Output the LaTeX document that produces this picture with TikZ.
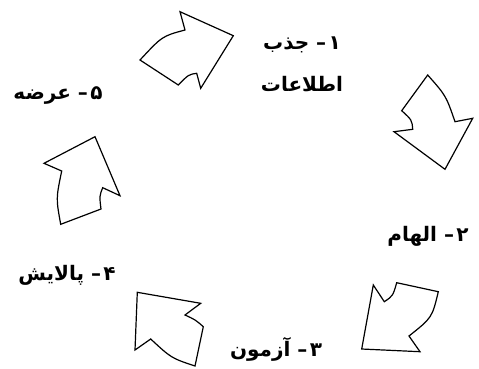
\documentclass[tikz,border=0pt]{standalone}
\usepackage{fontspec}
\newfontfamily\fafont[Script=Arabic]{DejaVu Sans}
\TeXXeTstate=1
\newcommand{\fatxt}[1]{\fafont\bfseries\beginR #1\endR}
\begin{document}
\begin{tikzpicture}[x=1pt,y=-1pt,
  arrowshape/.style={draw=black,line width=1.2pt,line join=miter,fill=white},
  lbl/.style={inner sep=0pt,font=\fontsize{20}{24}\selectfont}]
\useasboundingbox (0,0) rectangle (479,368);
% arrow 1 (top)
\draw[arrowshape] (180,11.7) -- (185,30) .. controls (162.2,36.1) .. (140,60)
  -- (178.3,85) .. controls (188.6,74.5) .. (196.7,73.3) -- (200.7,88.3)
  -- (233.3,35.7) -- cycle;
% arrow 2 (right)
\draw[arrowshape] (427.7,75) .. controls (446,95.7) .. (455,121.7) -- (472.7,118.3)
  -- (445,169.3) -- (394,131.7) -- (412.7,129.3)
  .. controls (411.9,120) .. (401.7,110.7) -- cycle;
% arrow 3 (bottom right)
\draw[arrowshape] (373.3,285) -- (384.3,301.7) .. controls (392.9,295.9) .. (396.7,282.7)
  -- (438.3,291.7) .. controls (432.1,317.6) .. (409,336) -- (420,351.7)
  -- (361.7,349) -- cycle;
% arrow 4 (bottom left)
\draw[arrowshape] (137.3,292.3) -- (200.7,303.3) -- (185,315)
  .. controls (195.3,319.7) .. (203.3,326.7) -- (195,366)
  .. controls (171.3,358.1) .. (150.7,339) -- (135,350) -- cycle;
% arrow 5 (left)
\draw[arrowshape] (95,136.7) -- (120,195.7) -- (102.7,187.7)
  .. controls (99.4,196.1) .. (101,209) -- (60.7,224.3)
  .. controls (56,198.5) .. (61.7,171) -- (44,163.3) -- cycle;
% labels
\node[lbl] (l1a) at (302,45) {\fatxt{۱\hspace{0.12em}–\ جذب}};
\node[lbl] (l1b) at (302,84) {\fatxt{اطلاعات}};
\node[lbl] (l2) at (428,236) {\fatxt{۲\hspace{0.12em}–\ الهام}};
\node[lbl] (l3) at (276,349) {\fatxt{۳\hspace{0.12em}–\ آزمون}};
\node[lbl] (l4) at (67,275) {\fatxt{۴\hspace{0.12em}–\ پالایش}};
\node[lbl] (l5) at (58,96) {\fatxt{۵\hspace{0.12em}–\ عرضه}};
\end{tikzpicture}
\end{document}
